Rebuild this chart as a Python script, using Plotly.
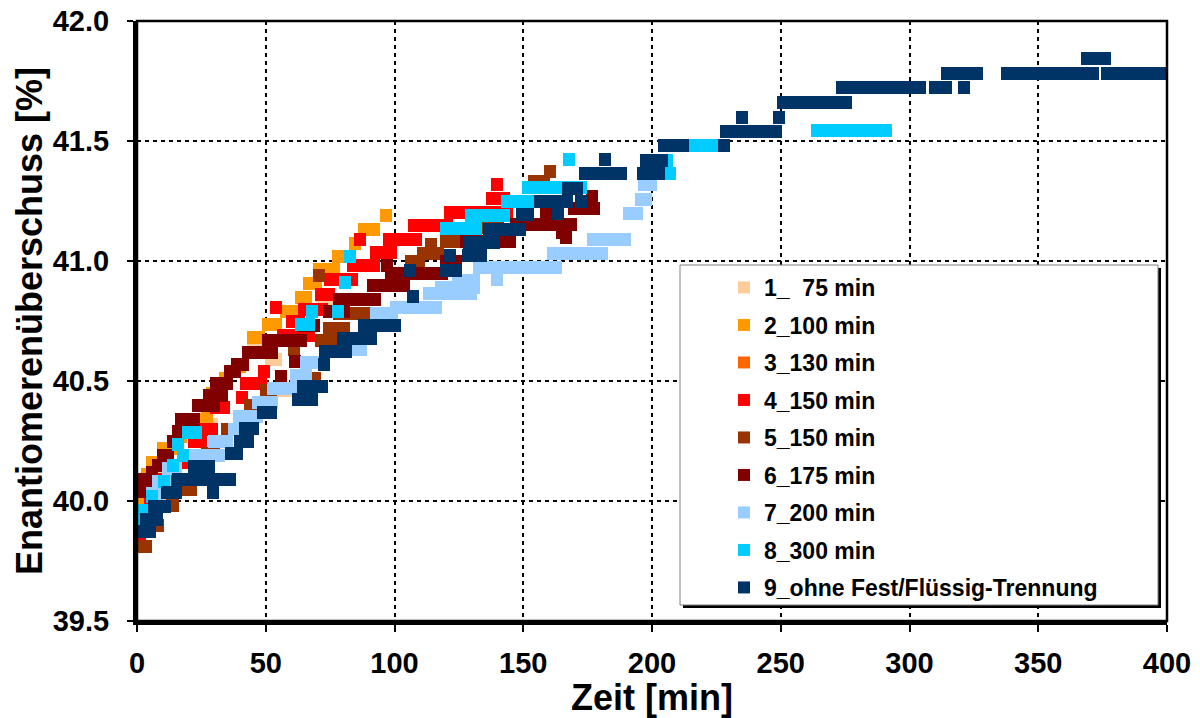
import plotly.graph_objects as go

# ---------------- data ----------------
# Each series: runs of measurements at constant value  (start time, end time, value)
series_names = [
    "1_\u00a0\u00a075 min", "2_100 min", "3_130 min", "4_150 min", "5_150 min",
    "6_175 min", "7_200 min", "8_300 min", "9_ohne Fest/Flüssig-Trennung",
]
series_colors = [
    "#FFCC99", "#FF9900", "#FF6600", "#FF0000", "#993300",
    "#800000", "#99CCFF", "#00CCFF", "#003366",
]

s1_x0 = [0, 8, 24, 45, 52, 56, 72]
s1_x1 = [2, 10, 29, 50, 54, 58, 75]
s1_y = [39.97, 40.14, 40.32, 40.64, 40.59, 40.46, 40.84]

s2_x0 = [0, 0, 3, 4, 6, 10, 16, 25, 27, 29, 34, 40, 45, 51, 58, 63.7, 66.8, 70.7, 78, 84.5, 88, 96.7]
s2_x1 = [0.5, 1.5, 5, 6, 9, 14, 17, 27, 29, 29, 34, 40, 47.4, 54, 60.2, 65.6, 69.5, 76.5, 80, 84.5, 92, 96.7]
s2_y = [39.94, 40.0, 40.06, 40.11, 40.16, 40.22, 40.27, 40.34, 40.39, 40.45, 40.51, 40.56, 40.68,
        40.735, 40.79, 40.846, 40.908, 40.963, 41.02, 41.075, 41.13, 41.19]

s3_x0 = [0, 22, 43, 93, 110, 122]
s3_x1 = [1, 25, 47, 98, 120, 130]
s3_y = [39.84, 40.25, 40.49, 41.035, 41.146, 41.204]

s4_x0 = [0, 5, 10, 18, 22, 26.8, 30.7, 40.6, 42.3, 49.5, 54, 56.7, 60, 65, 71.5, 75, 84, 86.6,
         92.8, 98, 107.6, 121.5, 138, 139.8]
s4_x1 = [1, 8, 14, 22, 25, 29, 33.8, 40.6, 48, 49.5, 54, 66.8, 63, 72, 74.6, 83.5, 92, 86.6,
         98.6, 108.5, 120.4, 143.7, 142.5, 139.8]
s4_y = [39.84, 40.0, 40.09, 40.16, 40.25, 40.30, 40.39, 40.43, 40.49, 40.54, 40.806, 40.69, 40.75,
        40.80, 40.86, 40.925, 40.98, 41.09, 41.035, 41.09, 41.146, 41.204, 41.26, 41.317]

s5_x0 = [2.3, 6, 12, 19, 22, 27, 35, 44, 50, 61, 69, 71.5, 74.6, 70.7, 78.5, 88, 106.4, 111, 114,
         120, 132, 154, 160.2]
s5_x1 = [3.5, 8, 14, 21, 24, 30, 38, 47, 52, 61, 69, 75.3, 80.4, 70.7, 88, 92, 109.5, 117, 114,
         131, 140, 158, 160.2]
s5_y = [39.81, 39.90, 39.98, 40.046, 40.12, 40.2, 40.3, 40.4, 40.46, 40.63, 40.51, 40.667, 40.72,
        40.94, 40.78, 40.84, 41.0, 41.03, 41.07, 41.08, 41.14, 41.33, 41.375]

s6_x0 = [0.4, 0.8, 6, 8.3, 10, 14, 16, 17, 23.7, 28, 30.7, 36, 39, 43, 51, 56, 61.4, 65, 74.6,
         78.5, 91.7, 97, 98.6, 120, 127.8, 147, 159, 165, 166.6, 169.7, 176.7]
s6_x1 = [3.5, 5.4, 6, 8.3, 12, 14, 18, 22, 30, 33, 35, 38, 41, 52.4, 63.7, 56, 61.4, 68.7, 80.4,
         92.5, 103.5, 97, 118.5, 124, 145, 168.5, 159, 165, 166.6, 177.5, 176.7]
s6_y = [40.04, 40.09, 40.12, 40.15, 40.19, 40.25, 40.29, 40.34, 40.396, 40.44, 40.49, 40.54, 40.57,
        40.62, 40.67, 40.52, 40.58, 40.73, 40.79, 40.84, 40.896, 40.98, 40.95, 41.0, 41.08, 41.154,
        41.2, 41.12, 41.096, 41.217, 41.267]

s7_x0 = [3, 6, 8, 12, 20, 30, 37.7, 39.6, 47, 53, 61.7, 65.6, 84, 93, 100.6, 113.4, 118, 124.7,
         139.8, 132.8, 161.5, 177, 191, 195.7, 197]
s7_x1 = [6, 9, 11, 15, 32, 35, 41.5, 46.6, 52.4, 61, 65.6, 68.7, 87, 99, 116, 129.7, 131, 131,
         139.8, 162.7, 180.6, 189.5, 194, 197.7, 199.6]
s7_y = [39.93, 40.03, 40.08, 40.135, 40.188, 40.246, 40.30, 40.354, 40.41, 40.467, 40.525, 40.579,
        40.63, 40.78, 40.806, 40.863, 40.89, 40.917, 40.925, 40.975, 41.033, 41.088, 41.20, 41.258,
        41.317]

s8_x0 = [1, 2.5, 6, 10.5, 14, 18, 16, 19.8, 63.7, 68, 78, 80.8, 82.7, 120, 129.7, 143.7, 151.8,
         167.6, 204, 207, 216.6, 264]
s8_x1 = [1, 2.5, 6, 10.5, 14, 18, 16, 23, 66.8, 68, 78, 80.8, 82.7, 131.6, 142.5, 152.2, 172.4,
         167.6, 206, 207, 223.2, 290.7]
s8_y = [39.91, 39.96, 40.02, 40.08, 40.148, 40.19, 40.237, 40.287, 40.737, 40.79, 40.79, 40.91,
        41.02, 41.135, 41.19, 41.25, 41.308, 41.423, 41.42, 41.365, 41.48, 41.543]

s9_x0 = [0, 3.5, 6.6, 11.6, 16, 22, 25, 29.7, 36.5, 40, 42, 49, 62.5, 64.5, 72.6, 73, 80, 88, 107,
         106, 120, 121.5, 128.5, 129, 136.7, 149.5, 163.5, 156.5, 172.6, 167.4, 174, 181.6, 196.5,
         197.5, 204.6, 228, 228.6, 235.1, 249.4, 250.8, 273.7, 309.8, 321, 314.6, 337.8, 376.6,
         368.8]
s9_x1 = [5, 7.8, 10.9, 15, 20, 28, 36, 29.7, 39, 43, 45, 52, 68, 72, 72.6, 81, 91, 100, 107, 106,
         124, 121.5, 133.6, 138.6, 148.7, 152, 163.5, 167, 172.6, 171, 188, 181.6, 202.7, 204, 212,
         228, 248.2, 235.1, 249.4, 275.2, 304.1, 314.1, 321, 326.2, 371.2, 400, 376]
s9_y = [39.871, 39.923, 39.977, 40.035, 40.09, 40.144, 40.09, 40.035, 40.20, 40.25, 40.304, 40.367,
        40.423, 40.477, 40.567, 40.623, 40.677, 40.733, 40.852, 40.96, 40.96, 41.023, 41.023,
        41.077, 41.133, 41.194, 41.2, 41.25, 41.25, 41.304, 41.365, 41.423, 41.365, 41.42, 41.48,
        41.48, 41.538, 41.60, 41.60, 41.661, 41.721, 41.721, 41.721, 41.783, 41.783, 41.78, 41.844]

x_ticks = [0, 50, 100, 150, 200, 250, 300, 350, 400]
y_ticks = [39.5, 40.0, 40.5, 41.0, 41.5, 42.0]

series_data = [
    (s1_x0, s1_x1, s1_y), (s2_x0, s2_x1, s2_y), (s3_x0, s3_x1, s3_y),
    (s4_x0, s4_x1, s4_y), (s5_x0, s5_x1, s5_y), (s6_x0, s6_x1, s6_y),
    (s7_x0, s7_x1, s7_y), (s8_x0, s8_x1, s8_y), (s9_x0, s9_x1, s9_y),
]

# ---------------- style ----------------
X_RANGE = [0, 400]
Y_RANGE = [39.5, 42.0]
PAGE_OFF = 8                      # default body margin of the page
W, H = 1200 - 2 * PAGE_OFF, 718 - PAGE_OFF
M_L, M_R, M_T = 129, 25, 13
PLOT_W = W - M_L - M_R
PLOT_H = 600
M_B = H - M_T - PLOT_H
MARK_W_PX, MARK_H_PX = 12, 13
FONT = "Liberation Sans, Arial, Helvetica, sans-serif"

half_w = MARK_W_PX / 2 * (X_RANGE[1] - X_RANGE[0]) / PLOT_W
bar_h = MARK_H_PX * (Y_RANGE[1] - Y_RANGE[0]) / PLOT_H

fig = go.Figure()
for name, color, (x0s, x1s, ys) in zip(series_names, series_colors, series_data):
    fig.add_trace(go.Bar(
        orientation="h",
        y=ys,
        base=[a - half_w for a in x0s],
        x=[b - a + 2 * half_w for a, b in zip(x0s, x1s)],
        width=[bar_h] * len(ys),
        marker=dict(color=color, line=dict(width=0)),
        name=name,
        legendgroup=name,
        cliponaxis=False,
    ))

# page pixel -> paper coordinates
def px_x(p):
    return (p - PAGE_OFF - M_L) / PLOT_W

def px_y(p):
    return (H - M_B - (p - PAGE_OFF)) / PLOT_H

shapes = [
    # plot frame
    dict(type="rect", xref="paper", yref="paper", x0=0, x1=1, y0=0, y1=1,
         line=dict(color="black", width=2.5), layer="above"),
    # legend box shadow + box
    dict(type="rect", xref="paper", yref="paper",
         x0=px_x(683), x1=px_x(1161), y0=px_y(608), y1=px_y(268),
         fillcolor="black", line=dict(width=0), layer="above"),
    dict(type="rect", xref="paper", yref="paper",
         x0=px_x(680), x1=px_x(1158), y0=px_y(605), y1=px_y(265),
         fillcolor="white", line=dict(color="#808080", width=1), layer="above"),
]

fig.update_layout(
    width=W, height=H,
    margin=dict(l=M_L, r=M_R, t=M_T, b=M_B, autoexpand=False),
    paper_bgcolor="white", plot_bgcolor="white",
    barmode="overlay",
    bargap=0,
    showlegend=True,
    shapes=shapes,
    font=dict(family=FONT, color="black"),
    legend=dict(
        x=px_x(724), xanchor="left", y=px_y(266), yanchor="top",
        bgcolor="rgba(0,0,0,0)", borderwidth=0,
        font=dict(family=FONT, size=23, color="black", weight="bold"),
        tracegroupgap=4.6,
    ),
    xaxis=dict(
        range=X_RANGE, tickvals=x_ticks, ticktext=[str(v) for v in x_ticks],
        showgrid=True, gridcolor="black", gridwidth=2, griddash="4px,4px",
        showline=True, linecolor="black", linewidth=4, zeroline=False,
        ticks="outside", ticklen=7, tickwidth=1.5, tickcolor="black",
        ticklabelstandoff=6, ticklabeloverflow="allow",
        tickfont=dict(family=FONT, size=29, color="black", weight="bold"),
        title=dict(text="Zeit [min]", standoff=16,
                   font=dict(family=FONT, size=36, color="black", weight="bold")),
    ),
    yaxis=dict(
        range=Y_RANGE, tickvals=y_ticks, ticktext=[f"{v:.1f}" for v in y_ticks],
        showgrid=True, gridcolor="black", gridwidth=2, griddash="4px,4px",
        showline=True, linecolor="black", linewidth=4, zeroline=False,
        ticks="outside", ticklen=6, tickwidth=1.5, tickcolor="black",
        ticklabelstandoff=12, ticklabeloverflow="allow",
        tickfont=dict(family=FONT, size=29, color="black", weight="bold"),
        title=dict(text="Enantiomerenüberschuss [%]", standoff=0,
                   font=dict(family=FONT, size=36, color="black", weight="bold")),
    ),
)

fig.write_html("out.html")
